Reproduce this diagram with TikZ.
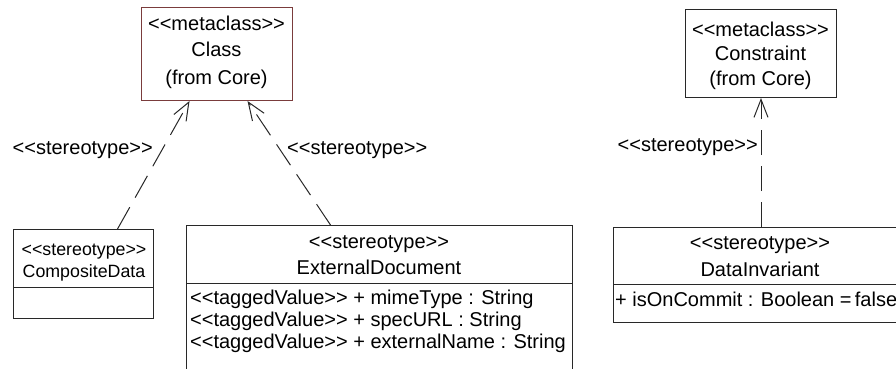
\documentclass[tikz,border=0pt]{standalone}
\usepackage{fontspec}
\setmainfont{Liberation Sans}
\usetikzlibrary{arrows.meta}
\definecolor{metaborder}{RGB}{122,60,60}
\definecolor{ink}{RGB}{40,40,40}
\newcommand{\guil}[1]{<{}<#1>{}>}
\begin{document}
\begin{tikzpicture}[x=1pt,y=-1pt,
  box/.style={draw=ink, line width=1pt, inner sep=0pt, anchor=north west},
  lbl/.style={font=\fontsize{20}{23}\selectfont, inner sep=0pt, text=black},
  small/.style={font=\fontsize{17.8}{21}\selectfont, inner sep=0pt, text=black},
  attr/.style={lbl, anchor=west},
  sep/.style={draw=ink, line width=1pt},
  dep/.style={draw=ink, line width=1pt, dash pattern=on 25pt off 11pt,
    -{Straight Barb[length=18pt,width=14pt,line width=1pt]}}]
\useasboundingbox (0,0) rectangle (896,368);
\clip (0,0) rectangle (896,368);

% metaclasses
\node[box, draw=metaborder, minimum width=151pt, minimum height=93pt] (cls) at (141,7) {};
\node[lbl] (clsA) at (216.5,23) {\guil{metaclass}};
\node[lbl] (clsB) at (216.5,49) {Class};
\node[lbl] (clsC) at (216.5,79) {(from Core)};

\node[box, minimum width=151pt, minimum height=88pt] (con) at (685,9) {};
\node[lbl] (conA) at (760.5,29) {\guil{metaclass}};
\node[lbl] (conB) at (760.5,53) {Constraint};
\node[lbl] (conC) at (760.5,80) {(from Core)};

% stereotypes
\node[box, minimum width=140pt, minimum height=89pt] (comp) at (13,229) {};
\node[small] (compA) at (84,252) {\guil{stereotype}};
\node[small] (compB) at (84,273) {CompositeData};
\draw[sep] (comp.west |- 0,287) -- (comp.east |- 0,287);

\node[box, minimum width=386pt, minimum height=160pt] (ext) at (186,225) {};
\node[lbl] (extA) at (379,244) {\guil{stereotype}};
\node[lbl] (extB) at (379,267) {ExternalDocument};
\draw[sep] (ext.west |- 0,283) -- (ext.east |- 0,283);
\node[attr] (extC) at (190,299) {\guil{taggedValue} + mimeType : String};
\node[attr] (extD) at (190,321) {\guil{taggedValue} + specURL : String};
\node[attr] (extE) at (190,343) {\guil{taggedValue} + externalName : String};

\node[box, minimum width=294pt, minimum height=95pt] (inv) at (613,227) {};
\node[lbl] (invA) at (760,245) {\guil{stereotype}};
\node[lbl] (invB) at (760,269) {DataInvariant};
\draw[sep] (inv.west |- 0,284) -- (inv.east |- 0,284);
\node[attr] (invC) at (615,299) {+ isOnCommit : Boolean =\,false};

% dependencies
\draw[dep] ([xshift=34pt]comp.north) -- ([xshift=-27.5pt]cls.south);
\draw[dep] ([xshift=-49pt]ext.north) -- ([xshift=30.5pt]cls.south);
\draw[dep] (inv.north -| con.south) -- (con.south);

\node[lbl, anchor=east] (s1) at (153,150) {\guil{stereotype}};
\node[lbl, anchor=west] (s2) at (287,150) {\guil{stereotype}};
\node[lbl, anchor=east] (s3) at (758,147) {\guil{stereotype}};
\end{tikzpicture}
\end{document}
